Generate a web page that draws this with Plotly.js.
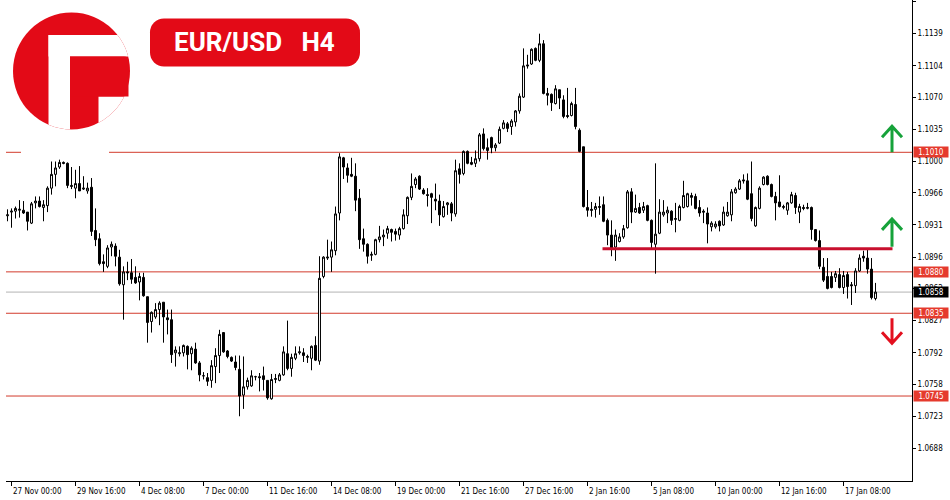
<!DOCTYPE html>
<html><head><meta charset="utf-8">
<script src="https://cdn.plot.ly/plotly-3.0.1.min.js"></script>
<style>html,body{margin:0;padding:0;background:#fff;}#chart{width:950px;height:500px;}</style>
</head><body><div id="chart"></div>
<script>
// EUR/USD H4 candles (27 Nov 2023 - 17 Jan 2024)
const opens = [1.0941,1.0945,1.0946,1.0947,1.0947,1.0945,1.0933,1.0955,1.0957,1.0950,
1.0952,1.0971,1.0986,1.0994,1.0999,1.0998,1.0974,1.0971,1.0976,1.0970,
1.0968,1.0972,1.0925,1.0916,1.0891,1.0886,1.0907,1.0908,1.0896,1.0866,
1.0880,1.0879,1.0874,1.0869,1.0874,1.0853,1.0826,1.0831,1.0839,1.0847,
1.0830,1.0828,1.0792,1.0791,1.0792,1.0799,1.0791,1.0796,1.0781,1.0767,
1.0765,1.0762,1.0777,1.0789,1.0814,1.0794,1.0787,1.0782,1.0774,1.0746,
1.0755,1.0756,1.0766,1.0766,1.0767,1.0762,1.0742,1.0763,1.0762,1.0768,
1.0791,1.0775,1.0786,1.0792,1.0792,1.0787,1.0786,1.0800,1.0783,1.0875,
1.0895,1.0896,1.0903,1.0944,1.1004,1.0993,1.0986,1.0984,1.0960,1.0916,
1.0910,1.0898,1.0899,1.0915,1.0918,1.0922,1.0926,1.0924,1.0920,1.0927,
1.0941,1.0961,1.0975,1.0984,1.0969,1.0964,1.0965,1.0959,1.0957,1.0940,
1.0953,1.0954,1.0943,1.0992,1.0987,1.1011,1.0999,1.0998,1.1003,1.1030,
1.1015,1.1026,1.1015,1.1020,1.1036,1.1041,1.1038,1.1043,1.1055,1.1070,
1.1105,1.1106,1.1123,1.1110,1.1128,1.1074,1.1073,1.1063,1.1078,1.1067,
1.1050,1.1050,1.1062,1.1034,1.1016,1.0950,1.0948,1.0948,1.0950,1.0953,
1.0936,1.0920,1.0907,1.0913,1.0918,1.0928,1.0967,1.0945,1.0950,1.0947,
1.0952,1.0936,1.0910,1.0922,1.0942,1.0944,1.0946,1.0937,1.0936,1.0950,
1.0951,1.0963,1.0962,1.0950,1.0946,1.0944,1.0929,1.0929,1.0935,1.0931,
1.0941,1.0942,1.0966,1.0970,1.0980,1.0979,1.0965,1.0930,1.0949,1.0975,
1.0984,1.0975,1.0962,1.0956,1.0950,1.0947,1.0955,1.0963,1.0945,1.0950,
1.0949,1.0950,1.0926,1.0914,1.0885,1.0875,1.0875,1.0874,1.0877,1.0863,
1.0877,1.0866,1.0865,1.0881,1.0897,1.0895,1.0883,1.0851];
const highs = [1.0948,1.0949,1.0951,1.0958,1.0957,1.0945,1.0956,1.0962,1.0962,1.0958,
1.0973,1.1000,1.1000,1.1002,1.1000,1.0999,1.0994,1.0991,1.0995,1.0984,
1.0977,1.0982,1.0949,1.0922,1.0899,1.0909,1.0913,1.0911,1.0904,1.0886,
1.0891,1.0894,1.0886,1.0879,1.0879,1.0853,1.0837,1.0846,1.0848,1.0847,
1.0839,1.0839,1.0799,1.0799,1.0801,1.0800,1.0799,1.0803,1.0783,1.0771,
1.0770,1.0784,1.0797,1.0817,1.0814,1.0795,1.0788,1.0789,1.0789,1.0788,
1.0765,1.0773,1.0767,1.0770,1.0777,1.0762,1.0769,1.0769,1.0770,1.0799,
1.0827,1.0791,1.0799,1.0799,1.0797,1.0790,1.0800,1.0810,1.0897,1.0897,
1.0915,1.0913,1.0951,1.1009,1.1005,1.0998,1.1004,1.0998,1.0970,1.0927,
1.0911,1.0902,1.0916,1.0930,1.0926,1.0930,1.0927,1.0927,1.0929,1.0948,
1.0962,1.0987,1.0983,1.0985,1.0971,1.0971,1.0966,1.0976,1.0964,1.0957,
1.0956,1.0956,1.1002,1.0998,1.1012,1.1012,1.1005,1.1012,1.1031,1.1036,
1.1025,1.1027,1.1020,1.1038,1.1045,1.1043,1.1046,1.1056,1.1074,1.1123,
1.1116,1.1123,1.1124,1.1139,1.1132,1.1080,1.1074,1.1083,1.1078,1.1072,
1.1080,1.1065,1.1080,1.1036,1.1016,1.0969,1.0956,1.0955,1.0962,1.0962,
1.0938,1.0936,1.0926,1.0922,1.0931,1.0969,1.0971,1.0964,1.0955,1.0956,
1.0953,1.0937,1.0998,1.0959,1.0958,1.0951,1.0947,1.0955,1.0953,1.0979,
1.0966,1.0966,1.0965,1.0958,1.0948,1.0950,1.0935,1.0935,1.0936,1.0951,
1.0956,1.0970,1.0972,1.0981,1.0986,1.0987,1.1000,1.0951,1.0973,1.0984,
1.0985,1.0976,1.0967,1.0985,1.0953,1.0956,1.0967,1.0966,1.0954,1.0953,
1.0955,1.0951,1.0926,1.0925,1.0895,1.0895,1.0880,1.0881,1.0884,1.0881,
1.0880,1.0869,1.0884,1.0899,1.0903,1.0904,1.0895,1.0868];
const lows = [1.0935,1.0928,1.0938,1.0939,1.0943,1.0925,1.0932,1.0949,1.0950,1.0935,
1.0945,1.0964,1.0973,1.0992,1.0997,1.0971,1.0970,1.0960,1.0968,1.0969,
1.0965,1.0919,1.0908,1.0887,1.0880,1.0884,1.0897,1.0886,1.0865,1.0828,
1.0871,1.0867,1.0867,1.0849,1.0853,1.0803,1.0814,1.0829,1.0822,1.0803,
1.0812,1.0781,1.0777,1.0788,1.0788,1.0774,1.0773,1.0780,1.0761,1.0763,
1.0756,1.0754,1.0759,1.0770,1.0792,1.0786,1.0782,1.0773,1.0723,1.0731,
1.0752,1.0755,1.0762,1.0750,1.0751,1.0741,1.0741,1.0759,1.0761,1.0767,
1.0773,1.0766,1.0784,1.0790,1.0782,1.0781,1.0773,1.0783,1.0779,1.0873,
1.0893,1.0880,1.0898,1.0936,1.0981,1.0977,1.0983,1.0946,1.0905,1.0902,
1.0889,1.0892,1.0898,1.0912,1.0908,1.0916,1.0913,1.0914,1.0915,1.0926,
1.0932,1.0958,1.0971,1.0969,1.0964,1.0951,1.0933,1.0947,1.0930,1.0939,
1.0942,1.0935,1.0940,1.0976,1.0985,1.0997,1.0996,1.0994,1.1000,1.1012,
1.1002,1.1009,1.1011,1.1019,1.1035,1.1032,1.1029,1.1038,1.1052,1.1069,
1.1101,1.1105,1.1109,1.1108,1.1073,1.1061,1.1055,1.1062,1.1057,1.1047,
1.1047,1.1049,1.1035,1.1010,1.0950,1.0940,1.0940,1.0939,1.0942,1.0934,
1.0909,1.0897,1.0892,1.0912,1.0916,1.0927,1.0933,1.0944,1.0943,1.0944,
1.0935,1.0904,1.0878,1.0921,1.0940,1.0933,1.0931,1.0923,1.0935,1.0949,
1.0950,1.0952,1.0948,1.0940,1.0933,1.0911,1.0924,1.0927,1.0924,1.0930,
1.0940,1.0935,1.0965,1.0969,1.0976,1.0958,1.0935,1.0929,1.0948,1.0974,
1.0974,1.0961,1.0936,1.0950,1.0948,1.0942,1.0954,1.0943,1.0933,1.0947,
1.0948,1.0915,1.0913,1.0883,1.0869,1.0861,1.0862,1.0869,1.0862,1.0856,
1.0851,1.0844,1.0857,1.0880,1.0891,1.0878,1.0850,1.0849];
const closes = [1.0942,1.0946,1.0949,1.0948,1.0944,1.0935,1.0954,1.0957,1.0951,1.0953,
1.0971,1.0986,1.0993,1.0999,1.0998,1.0974,1.0973,1.0976,1.0968,1.0971,
1.0971,1.0924,1.0915,1.0889,1.0889,1.0906,1.0910,1.0897,1.0867,1.0880,
1.0879,1.0872,1.0868,1.0875,1.0854,1.0825,1.0836,1.0839,1.0846,1.0831,
1.0828,1.0790,1.0795,1.0792,1.0800,1.0790,1.0797,1.0781,1.0768,1.0767,
1.0761,1.0778,1.0789,1.0812,1.0793,1.0788,1.0783,1.0776,1.0745,1.0755,
1.0762,1.0767,1.0766,1.0765,1.0763,1.0743,1.0763,1.0764,1.0768,1.0793,
1.0775,1.0787,1.0791,1.0793,1.0789,1.0788,1.0799,1.0784,1.0873,1.0896,
1.0896,1.0904,1.0943,1.1005,1.0994,1.0985,1.0984,1.0958,1.0915,1.0910,
1.0897,1.0899,1.0915,1.0918,1.0920,1.0927,1.0923,1.0921,1.0927,1.0942,
1.0961,1.0973,1.0981,1.0970,1.0965,1.0963,1.0961,1.0957,1.0942,1.0951,
1.0955,1.0944,1.0990,1.0986,1.1011,1.0998,1.0997,1.1003,1.1029,1.1014,
1.1012,1.1015,1.1018,1.1035,1.1042,1.1036,1.1044,1.1055,1.1071,1.1104,
1.1104,1.1122,1.1110,1.1128,1.1074,1.1072,1.1064,1.1079,1.1069,1.1049,
1.1049,1.1063,1.1038,1.1011,1.0951,1.0947,1.0947,1.0951,1.0951,1.0935,
1.0920,1.0906,1.0920,1.0918,1.0927,1.0967,1.0945,1.0949,1.0944,1.0951,
1.0936,1.0912,1.0921,1.0945,1.0945,1.0947,1.0936,1.0938,1.0951,1.0963,
1.0965,1.0961,1.0949,1.0944,1.0945,1.0932,1.0933,1.0932,1.0930,1.0945,
1.0945,1.0967,1.0970,1.0979,1.0979,1.0959,1.0938,1.0950,1.0971,1.0983,
1.0975,1.0962,1.0955,1.0951,1.0951,1.0955,1.0964,1.0950,1.0951,1.0949,
1.0950,1.0926,1.0914,1.0886,1.0871,1.0862,1.0863,1.0878,1.0863,1.0876,
1.0864,1.0865,1.0881,1.0895,1.0895,1.0883,1.0852,1.0858];

// time-axis labels (one every 16 bars, first at bar 1)
const xTickLabels = ['27 Nov 00:00','29 Nov 16:00','4 Dec 08:00','7 Dec 00:00','11 Dec 16:00',
  '14 Dec 08:00','19 Dec 00:00','21 Dec 16:00','27 Dec 16:00','2 Jan 16:00','5 Jan 08:00',
  '10 Jan 00:00','12 Jan 16:00','17 Jan 08:00'];
const xTickFirstBar = 1, xTickStep = 16;
// price-axis labels
const yTickLabels = ['1.1174','1.1139','1.1104','1.1070','1.1035','1.1000','1.0966','1.0931',
  '1.0896','1.0862','1.0827','1.0792','1.0758','1.0723','1.0688'];
// horizontal levels
const levelPrices = [1.1010, 1.0880, 1.0835, 1.0745];
const currentPrice = 1.0858;
const rangeLevel = 1.0905;          // thick red line
const rangeFromBar = 148.75, rangeToBar = 221.25;
const pairTitle = 'EUR/USD\u00a0\u00a0\u00a0H4';

// ---------- layout geometry ----------
const M = {l: 6, r: 38, t: 0, b: 19};
const PW = 950 - M.l - M.r, PH = 500 - M.t - M.b;
const barPx = 4;
const xRange = [-0.375, -0.375 + PW / barPx];
const yRange = [1.06526, 1.11756];
const px2x = px => (px - M.l) / PW;
const py2y = py => 1 - (py - M.t) / PH;

const RED_LINE = '#d23b2c', RED_BOX = '#e53a2d', RANGE_RED = '#c8102e';
const GREEN = '#16a23a', ARROW_RED = '#e3101f', LOGO_RED = '#e30a17';
const FONT = '"DejaVu Sans Condensed", "Liberation Sans", sans-serif';
const FS = 8;

const bars = opens.map((_, i) => i);

const trace = {
  type: 'candlestick', x: bars, open: opens, high: highs, low: lows, close: closes,
  increasing: {line: {color: '#000', width: 1}, fillcolor: '#ffffff'},
  decreasing: {line: {color: '#000', width: 1}, fillcolor: '#000000'},
  whiskerwidth: 0, hoverinfo: 'skip', showlegend: false
};

const shapes = [];
levelPrices.forEach(p => shapes.push({type: 'line', xref: 'paper', x0: 0, x1: 1, yref: 'y', y0: p, y1: p,
  line: {color: RED_LINE, width: 1}, layer: 'below'}));
shapes.push({type: 'line', xref: 'paper', x0: 0, x1: 1, yref: 'y', y0: currentPrice, y1: currentPrice,
  line: {color: '#b4b4b4', width: 1}, layer: 'below'});
// white patch of the logo background over the top line
shapes.push({type: 'rect', xref: 'paper', yref: 'paper', x0: px2x(21), x1: px2x(109), y0: py2y(157), y1: py2y(147),
  fillcolor: '#ffffff', line: {width: 0}, layer: 'above'});
shapes.push({type: 'line', xref: 'x', x0: rangeFromBar, x1: rangeToBar, yref: 'y', y0: rangeLevel, y1: rangeLevel,
  line: {color: RANGE_RED, width: 3}, layer: 'above'});
// arrows (pixel paths anchored at levels)
const arrowX = px2x(892);
function arrow(anchorY, path, color) {
  return {type: 'path', xref: 'paper', yref: 'y', xsizemode: 'pixel', ysizemode: 'pixel',
    xanchor: arrowX, yanchor: anchorY, path: path, line: {color: color, width: 3}, layer: 'above'};
}
shapes.push(arrow(levelPrices[0], 'M0,0 L0,26 M-10,15 L0,26 L10,15', GREEN));
shapes.push(arrow(rangeLevel, 'M0,2 L0,30 M-10,19 L0,30 L10,19', GREEN));
shapes.push(arrow(levelPrices[2], 'M0,-5 L0,-30 M-10,-19 L0,-30 L10,-19', ARROW_RED));

const annotations = [];
xTickLabels.forEach((t, k) => annotations.push({
  x: xTickFirstBar + k * xTickStep, xref: 'x', xanchor: 'left', xshift: -1,
  y: 0, yref: 'paper', yanchor: 'top', yshift: -4,
  text: t, showarrow: false, font: {family: FONT, size: FS, color: '#000'}
}));
function priceBox(p, bg) {
  return {x: 1, xref: 'paper', xanchor: 'left', xshift: 1, y: p, yref: 'y', yanchor: 'middle',
    text: p.toFixed(4), showarrow: false, bgcolor: bg, borderpad: 0, width: 34, height: 10, align: 'center',
    font: {family: FONT, size: FS, color: '#fff'}};
}
levelPrices.forEach(p => annotations.push(priceBox(p, RED_BOX)));
annotations.push(priceBox(currentPrice, '#000'));
annotations.push({x: px2x(254), xref: 'paper', y: py2y(42.5), yref: 'paper', xanchor: 'center', yanchor: 'middle',
  text: pairTitle, showarrow: false, font: {family: 'Roboto, "Open Sans", sans-serif', size: 26, color: '#fff', weight: 700}});

const logoSvg = '<svg xmlns="http://www.w3.org/2000/svg" width="370" height="140" viewBox="0 0 370 140">' +
  '<defs><clipPath id="c"><circle cx="71.5" cy="71" r="58.5"/></clipPath></defs>' +
  '<g clip-path="url(#c)">' +
  '<rect x="0" y="0" width="140" height="140" fill="' + LOGO_RED + '"/>' +
  '<rect x="48.5" y="35" width="21.5" height="110" fill="#fff"/>' +
  '<rect x="48.5" y="35" width="100" height="21.5" fill="#fff"/>' +
  '<rect x="98.5" y="96.5" width="50" height="50" fill="#fff"/>' +
  '</g>' +
  '<path d="M70,56.5 H124 Q128.5,56.5 128.5,61 V96.5 H70 Z" fill="' + LOGO_RED + '"/>' +
  '<rect x="150" y="18.5" width="210" height="48" rx="14" ry="14" fill="' + LOGO_RED + '"/>' +
  '</svg>';

const layout = {
  width: 950, height: 500, margin: M, paper_bgcolor: '#fff', plot_bgcolor: '#fff',
  showlegend: false, boxgap: 0.3, boxgroupgap: 0.3,
  xaxis: {range: xRange, showgrid: false, zeroline: false, showline: true, linecolor: '#000', linewidth: 1,
    ticks: 'outside', ticklen: 4, tickcolor: '#000', tickwidth: 1,
    tickvals: xTickLabels.map((_, k) => xTickFirstBar + k * xTickStep), showticklabels: false,
    rangeslider: {visible: false}, fixedrange: true},
  yaxis: {side: 'right', range: yRange, showgrid: false, zeroline: false, showline: true, linecolor: '#000', linewidth: 1,
    ticks: 'outside', ticklen: 3, tickcolor: '#000', tickwidth: 1,
    tickvals: yTickLabels.map(Number), ticktext: yTickLabels,
    tickfont: {family: FONT, size: FS, color: '#000'}, fixedrange: true},
  shapes: shapes, annotations: annotations,
  images: [{source: 'data:image/svg+xml;charset=utf-8,' + encodeURIComponent(logoSvg),
    xref: 'paper', yref: 'paper', x: px2x(0), y: py2y(0), sizex: 370 / PW, sizey: 140 / PH,
    xanchor: 'left', yanchor: 'top', sizing: 'stretch', layer: 'above'}]
};

Plotly.newPlot('chart', [trace], layout, {displayModeBar: false, staticPlot: true});
</script>
</body></html>
